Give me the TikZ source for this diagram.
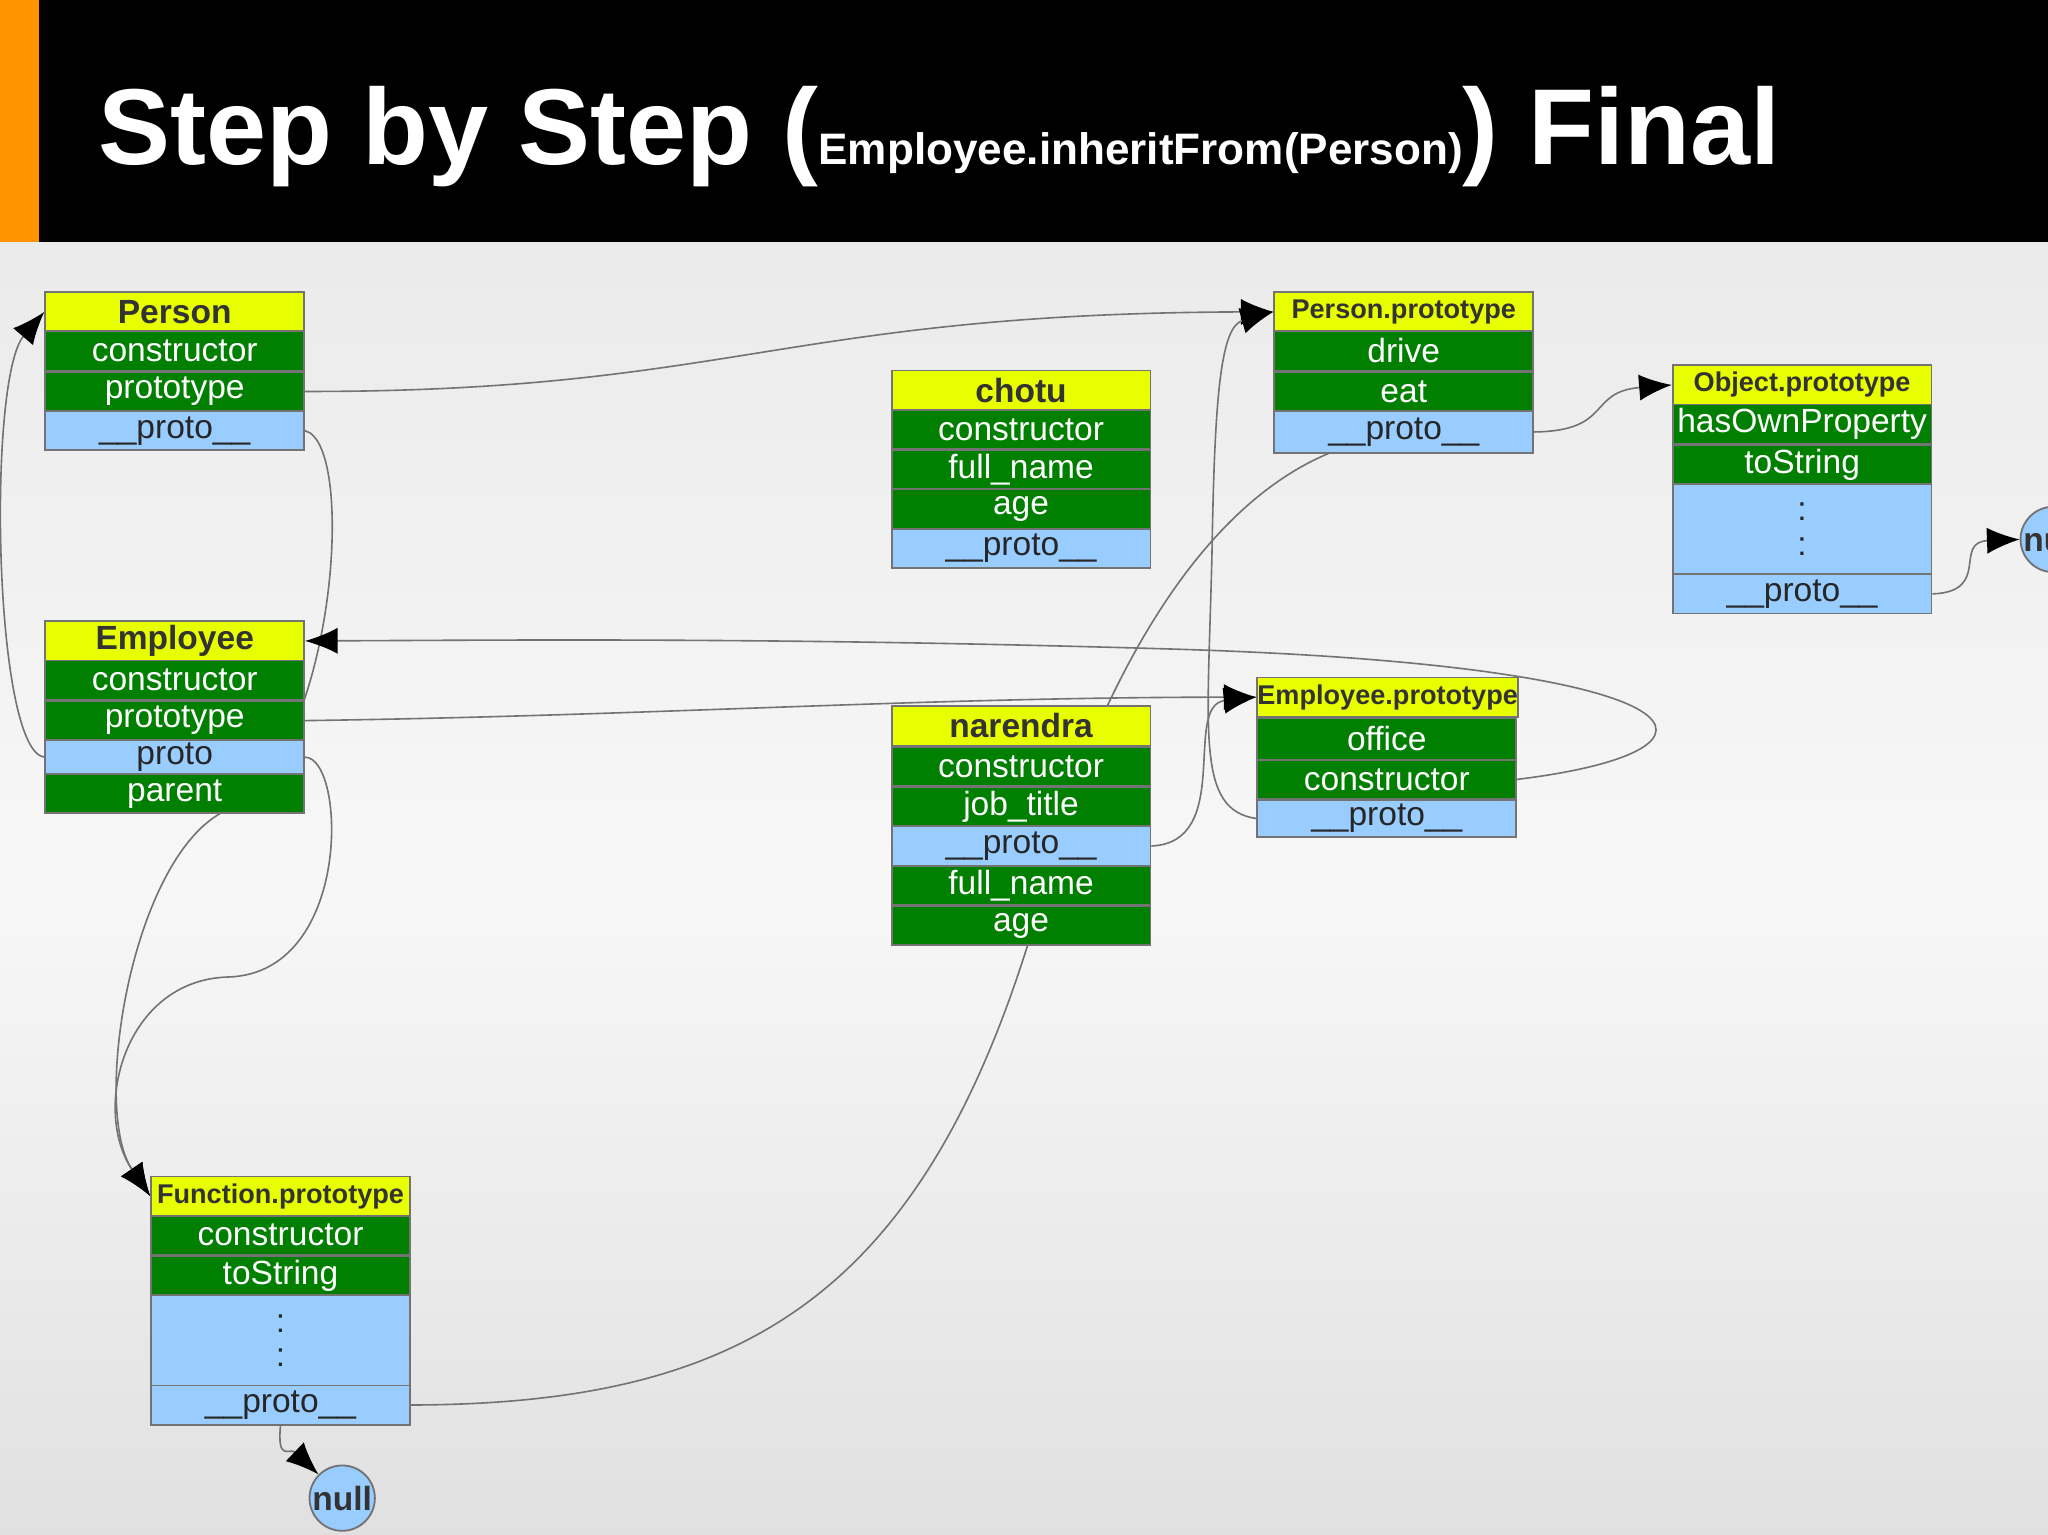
\documentclass[tikz,border=0pt]{standalone}
\usepackage{fontspec}
\setmainfont{Liberation Sans}
\usetikzlibrary{arrows.meta}
\pgfdeclarelayer{back}\pgfdeclarelayer{bg}\pgfsetlayers{back,bg,main}
\definecolor{hy}{HTML}{E8FF00}
\definecolor{gr}{HTML}{007F00}
\definecolor{bl}{HTML}{99CCFF}
\tikzset{
 cell/.style={draw=black!55, line width=0.4pt, minimum width=1.98cm, minimum height=0.30cm, inner sep=0pt, anchor=north west, font=\fontsize{7.3}{8}\selectfont},
 hdr/.style={cell, fill=hy, text=black!80, font=\fontsize{7.3}{8}\selectfont\bfseries},
 hdrs/.style={cell, fill=hy, text=black!80, font=\fontsize{5.9}{6}\selectfont\bfseries},
 grn/.style={cell, fill=gr, text=white},
 blu/.style={cell, fill=bl, text=black!85},
 dots/.style={blu, minimum height=0.69cm, align=center, font=\fontsize{7.3}{7.5}\selectfont},
 nullc/.style={circle, draw=black!55, fill=bl, minimum size=0.5cm, inner sep=0pt, font=\fontsize{7.3}{8}\selectfont\bfseries, text=black!80},
 con/.style={draw=black!55, line width=0.35pt},
 arr/.style={con, -{Latex[length=0.25cm,width=0.2cm,black]}}
}
\begin{document}
\begin{tikzpicture}[x=0.01cm,y=-0.01cm]
\useasboundingbox (0,0) rectangle (1568,1175);
\clip (0,0) rectangle (1568,1175);
\begin{pgfonlayer}{back}
\shade[top color=black!8, bottom color=black!12, middle color=black!3] (0,185) rectangle (1568,1175);
\fill[black] (0,0) rectangle (1568,185);
\fill[orange!85!yellow] (0,0) rectangle (30,185);
\end{pgfonlayer}
\node[anchor=base west, text=white, inner sep=0pt] (title) at (75,126)
 {\fontsize{23.5}{26}\selectfont\bfseries Step by Step (\fontsize{9.6}{10}\selectfont Employee.inheritFrom(Person)\fontsize{23.5}{26}\selectfont) Final};
% Person
\node[hdr] (P) at (34,223) {Person};
\node[grn] (Pc) at (34,253) {constructor};
\node[grn] (Pp) at (34,284) {prototype};
\node[blu] (Ppr) at (34,314) {\_\_proto\_\_};
% chotu
\node[hdr] (C) at (682,283) {chotu};
\node[grn] (Cc) at (682,313) {constructor};
\node[grn] (Cf) at (682,344) {full\_name};
\node[grn] (Ca) at (682,374) {age};
\node[blu] (Cpr) at (682,404) {\_\_proto\_\_};
% Person.prototype
\node[hdrs] (PP) at (975,223) {Person.prototype};
\node[grn] (PPd) at (975,253) {drive};
\node[grn] (PPe) at (975,284) {eat};
\node[blu, minimum height=0.32cm] (PPpr) at (975,314) {\_\_proto\_\_};
% Object.prototype
\node[hdrs] (OP) at (1280,279) {Object.prototype};
\node[grn] (OPh) at (1280,309) {hasOwnProperty};
\node[grn] (OPt) at (1280,340) {toString};
\node[dots] (OPd) at (1280,370) {:\\:};
\node[blu] (OPpr) at (1280,439) {\_\_proto\_\_};
\node[nullc] (nullR) at (1572,413) {null};
% Employee
\node[hdr] (E) at (34,475) {Employee};
\node[grn] (Ec) at (34,505) {constructor};
\node[grn] (Ep) at (34,536) {prototype};
\node[blu, minimum height=0.26cm] (Epr) at (34,566) {proto};
\node[grn] (Epa) at (34,592) {parent};
% Employee.prototype
\node[hdrs] (EP) at (962,518) {Employee.prototype};
\node[grn, minimum height=0.32cm] (EPo) at (962,549) {office};
\node[grn] (EPc) at (962,581) {constructor};
\node[blu, minimum height=0.28cm] (EPpr) at (962,612) {\_\_proto\_\_};
% narendra
\node[hdr] (N) at (682,540) {narendra};
\node[grn] (Nc) at (682,571) {constructor};
\node[grn] (Nj) at (682,602) {job\_title};
\node[blu] (Npr) at (682,632) {\_\_proto\_\_};
\node[grn] (Nf) at (682,662) {full\_name};
\node[grn] (Na) at (682,693) {age};
% Function.prototype
\node[hdrs] (F) at (115,900) {Function.prototype};
\node[grn] (Fc) at (115,930) {constructor};
\node[grn] (Ft) at (115,961) {toString};
\node[dots] (Fd) at (115,991) {:\\:};
\node[blu] (Fpr) at (115,1060) {\_\_proto\_\_};
\node[nullc] (nullB) at (262,1147) {null};
\coordinate (nTop) at (848,540);
\coordinate (ppIn) at (1020,346);
\coordinate (naOut) at (787,723);
\begin{pgfonlayer}{bg}
\draw[arr] (Pp.east) .. controls (560,300) and (600,240) .. (PP.west);
\draw[arr] (Ppr.east) .. controls (275,340) and (255,590) .. (170,622) .. controls (100,660) and (70,850) .. (F.west);
\draw[arr] (Epr.east) .. controls (265,580) and (270,745) .. (175,748) .. controls (95,750) and (70,850) .. (F.west);
\draw[arr] (Epr.west) .. controls (-5,575) and (-10,290) .. (P.west);
\draw[arr] (Ep.east) .. controls (500,548) and (700,534) .. (EP.west);
\draw[arr] (EPc.east) .. controls (1340,575) and (1320,510) .. (900,497) .. controls (600,488) and (400,490) .. (E.east);
\draw[arr] (EPpr.west) .. controls (915,620) and (925,560) .. (928,420) .. controls (930,300) and (935,250) .. (PP.west);
\draw[arr] (Npr.east) .. controls (945,645) and (905,540) .. (EP.west);
\draw[con] (nTop) .. controls (900,430) and (960,370) .. (ppIn);
\draw[con] (naOut) .. controls (700,1000) and (560,1075) .. (Fpr.east);
\draw[arr] (PPpr.east) .. controls (1235,330) and (1215,300) .. (OP.west);
\draw[arr] (OPpr.east) .. controls (1525,453) and (1495,415) .. (nullR.west);
\draw[arr] (Fpr.south) .. controls (212,1120) and (222,1108) .. (nullB.north west);
\end{pgfonlayer}
\end{tikzpicture}
\end{document}
